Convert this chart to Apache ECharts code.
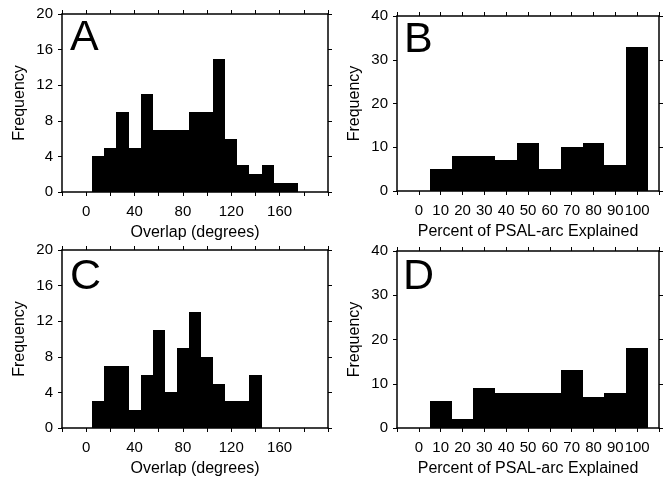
<!DOCTYPE html>
<html>
<head>
<meta charset="utf-8">
<script src="https://cdn.jsdelivr.net/npm/echarts@6/dist/echarts.min.js"></script>
<style>
html,body{margin:0;padding:0;background:#fff;}
#chart{width:664px;height:479px;}
</style>
</head>
<body>
<div id="chart"></div>
<script>
// ---- data ----
const binWidth = 10;
const overlapBinsA = [10,20,30,40,50,60,70,80,90,100,110,120,130,140,150,160,170];
const freqA = [4,5,9,5,11,7,7,7,9,9,15,6,3,2,3,1,1];
const percentBinsB = [10,20,30,40,50,60,70,80,90,100];
const freqB = [5,8,8,7,11,5,10,11,6,33];
const overlapBinsC = [10,20,30,40,50,60,70,80,90,100,110,120,130,140];
const freqC = [3,7,7,2,6,11,4,9,13,8,5,3,3,6];
const percentBinsD = [10,20,30,40,50,60,70,80,90,100];
const freqD = [6,2,9,8,8,8,13,7,8,18];
const overlapTickLabels = [0,40,80,120,160];
const percentTickLabels = [0,10,20,30,40,50,60,70,80,90,100];
const panelLetters = ['A','B','C','D'];
const overlapName = 'Overlap (degrees)';
const percentName = 'Percent of PSAL-arc Explained';
const yName = 'Frequency';

const FONT = '"Liberation Sans", Arial, sans-serif';
const grids = [
  {left: 62, top: 14, width: 266, height: 178},
  {left: 397, top: 16, width: 262, height: 175},
  {left: 62, top: 250, width: 266, height: 178},
  {left: 397, top: 251, width: 262, height: 177}
];
const panels = [
  {bins: overlapBinsA, freq: freqA, xmin: -20, xmax: 200, xint: 20, labels: overlapTickLabels, xname: overlapName, ymax: 20, yint: 4},
  {bins: percentBinsB, freq: freqB, xmin: -10, xmax: 110, xint: 10, labels: percentTickLabels, xname: percentName, ymax: 40, yint: 10},
  {bins: overlapBinsC, freq: freqC, xmin: -20, xmax: 200, xint: 20, labels: overlapTickLabels, xname: overlapName, ymax: 20, yint: 4},
  {bins: percentBinsD, freq: freqD, xmin: -10, xmax: 110, xint: 10, labels: percentTickLabels, xname: percentName, ymax: 40, yint: 10}
];
const letterPos = [[70, 17], [404, 19], [70, 256], [403, 256]];

const lineStyle = {color: '#000', width: 1.5};
const xAxes = [], yAxes = [], series = [], graphics = [];
panels.forEach((p, i) => {
  xAxes.push({
    type: 'value', gridIndex: i, position: 'bottom', min: p.xmin, max: p.xmax, interval: p.xint,
    axisLine: {show: true, onZero: false, lineStyle},
    axisTick: {show: true, length: 4, lineStyle: {color: '#000', width: 1}},
    splitLine: {show: false},
    axisLabel: {show: true, margin: 12, color: '#000', fontSize: 15, fontFamily: FONT,
      showMinLabel: true, showMaxLabel: true,
      formatter: v => p.labels.indexOf(Math.round(v)) >= 0 ? String(Math.round(v)) : ''},
    name: p.xname, nameLocation: 'middle', nameGap: 33,
    nameTextStyle: {color: '#000', fontSize: 16, fontFamily: FONT}
  });
  xAxes.push({
    type: 'value', gridIndex: i, position: 'top', min: p.xmin, max: p.xmax, interval: p.xint,
    axisLine: {show: true, onZero: false, lineStyle},
    axisTick: {show: true, length: 4, lineStyle: {color: '#000', width: 1}},
    splitLine: {show: false}, axisLabel: {show: false}
  });
  yAxes.push({
    type: 'value', gridIndex: i, position: 'left', min: 0, max: p.ymax, interval: p.yint,
    axisLine: {show: true, onZero: false, lineStyle},
    axisTick: {show: true, length: 4, lineStyle: {color: '#000', width: 1}},
    splitLine: {show: false},
    axisLabel: {show: true, margin: 9, color: '#000', fontSize: 15, fontFamily: FONT},
    name: yName, nameLocation: 'middle', nameGap: 34,
    nameTextStyle: {color: '#000', fontSize: 16, fontFamily: FONT, padding: [0, 0, 0, 0]}
  });
  yAxes.push({
    type: 'value', gridIndex: i, position: 'right', min: 0, max: p.ymax, interval: p.yint,
    axisLine: {show: true, onZero: false, lineStyle},
    axisTick: {show: true, length: 4, lineStyle: {color: '#000', width: 1}},
    splitLine: {show: false}, axisLabel: {show: false}
  });
  series.push({
    type: 'custom', xAxisIndex: 2 * i, yAxisIndex: 2 * i,
    data: p.bins.map((b, k) => [b, p.freq[k]]),
    renderItem: function (params, api) {
      const x = api.value(0), y = api.value(1);
      const p0 = api.coord([x - binWidth / 2, 0]);
      const p1 = api.coord([x + binWidth / 2, y]);
      const x0 = Math.round(p0[0]), x1 = Math.round(p1[0]);
      const y0 = Math.round(p0[1]), y1 = Math.round(p1[1]);
      return {type: 'rect', shape: {x: x0, y: y1, width: x1 - x0, height: y0 - y1},
        style: {fill: '#000'}};
    },
    z: 1
  });
  graphics.push({
    type: 'text', left: letterPos[i][0], top: letterPos[i][1], z: 10,
    style: {text: panelLetters[i], fill: '#000', font: '43px ' + FONT}
  });
});

const chart = echarts.init(document.getElementById('chart'), null, {renderer: 'canvas'});
chart.setOption({
  animation: false,
  backgroundColor: '#fff',
  grid: grids.map(g => Object.assign({containLabel: false}, g)),
  xAxis: xAxes,
  yAxis: yAxes,
  series: series,
  graphic: graphics
});
</script>
</body>
</html>
